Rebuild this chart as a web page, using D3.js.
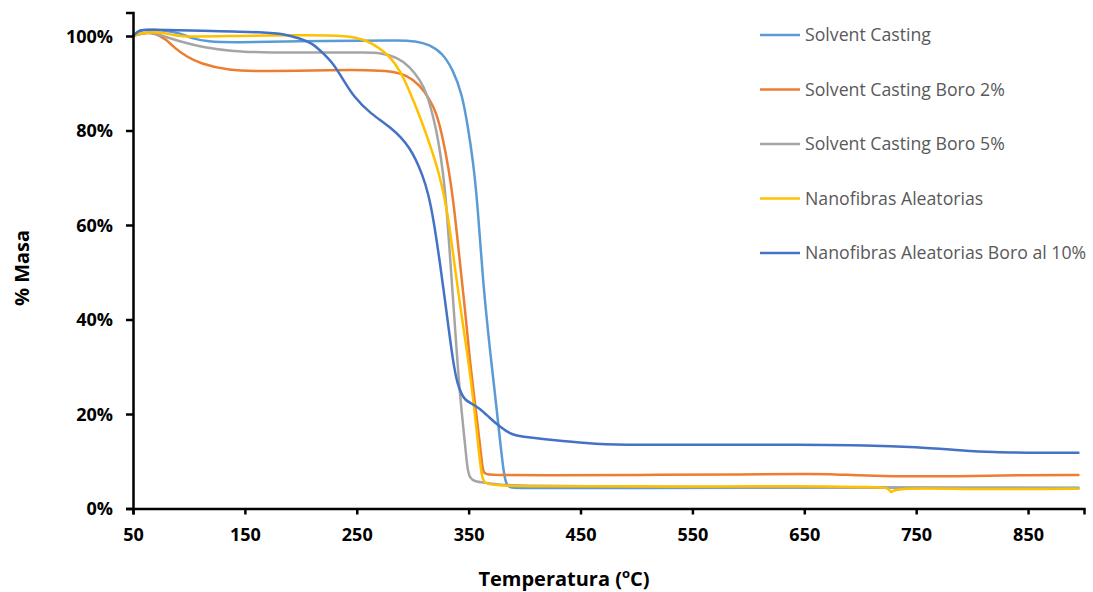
<!DOCTYPE html>
<html>
<head>
<meta charset="utf-8">
<script src="https://cdn.jsdelivr.net/npm/d3@7"></script>
<style>
  html, body { margin: 0; padding: 0; background: #fff; }
  svg { display: block; }
</style>
</head>
<body>
<svg id="chart" width="1093" height="592"></svg>
<script>
// ---------------- DATA ----------------
const seriesNames = [
  "Solvent Casting",
  "Solvent Casting Boro 2%",
  "Solvent Casting Boro 5%",
  "Nanofibras Aleatorias",
  "Nanofibras Aleatorias Boro al 10%"
];

// [temperatura (°C), % masa]
const solventCasting = [
  [50,100],[55,101.2],[62,101.4],[80,101.2],[92,100.6],[104,99.4],[116,98.8],[140,98.6],
  [200,98.9],[250,99.0],[290,99.1],[302,98.9],[315,98.2],[327,96.3],[336,92.8],[344,87.9],
  [349.4,80.7],[353.8,73.8],[358,64.5],[362.5,48.4],[370,31.4],[373.5,24.4],[378,14.5],
  [381,8.1],[383.5,5.2],[386,4.4],[400,4.3],[500,4.3],[600,4.4],[700,4.5],[800,4.4],[895,4.4]
];
const solventCastingBoro2 = [
  [50,100],[58,100.6],[70,100.7],[80,99.2],[86,97.7],[98,95.6],[110,94.2],[134,92.7],
  [170,92.5],[229,92.8],[260,92.8],[280,92.6],[295,91.7],[306.5,89.6],[315.4,86.5],
  [321.4,83.7],[327.3,78],[331.8,72.3],[336.3,65.3],[340.7,55.4],[346,44],[351,31.4],
  [355.6,22.4],[360,13.8],[362.5,8.2],[364,7.1],[380,7.1],[412,7.0],[500,7.1],[600,7.2],
  [650,7.3],[675,7.3],[715,6.8],[790,6.8],[851,7.1],[895,7.1]
];
const solventCastingBoro5 = [
  [50,100],[58,100.6],[68,100.8],[80,99.7],[98,98.5],[110,97.7],[140,96.7],[170,96.5],
  [229,96.5],[259,96.5],[270.8,96.4],[285.7,95.6],[297.6,93.5],[306.5,90.7],[312.5,87.9],
  [318.4,82.9],[322.9,78],[327.3,70.9],[330.4,63.5],[334.8,48.4],[338.5,36],[342,24.4],
  [346.7,13.8],[348.8,8.5],[351,6.3],[356,5.7],[363,5.5],[378,5.0],[400,4.8],[500,4.6],
  [600,4.5],[700,4.5],[800,4.3],[895,4.3]
];
const nanofibrasAleatorias = [
  [50,100],[56,100.6],[65,100.8],[75,100.8],[86,100.2],[98,99.8],[140,100],[200,100.2],
  [244,100.1],[256,99.2],[265,98.3],[274,96.7],[280,95.5],[289,92.5],[295,89.5],[306.5,83],
  [315.4,77],[323,71.5],[330.4,64],[336,54],[342,43.5],[349.7,31.4],[354,23.4],
  [358.6,13.2],[361.6,6.7],[364,5.2],[375,4.9],[400,4.7],[500,4.7],[560,4.6],[650,4.8],
  [711,4.5],[726,4.5],[727.5,3.0],[729,4.4],[791,4.1],[866,4.1],[895,4.2]
];
const nanofibrasAleatoriasBoro10 = [
  [50,100],[55,101.2],[62,101.4],[110,101.1],[170,100.8],[185,100.4],[199,99.5],[211,98.4],
  [220,96.3],[229,94.2],[238,90.7],[247,87.2],[262,83.6],[280,80.8],[298,76.6],[309.5,70.2],
  [314,66.5],[318.4,61.5],[324.4,52],[330.4,41.3],[336,31],[340,26.3],[344,24],[347,23],
  [351,22.4],[360,21.2],[369,19.1],[378,17.3],[387,15.8],[396,15.2],[425,14.5],[455,13.8],
  [485,13.4],[555,13.5],[650,13.5],[706,13.4],[750,13.0],[791,12.3],[820,11.9],[845,11.8],
  [895,11.8]
];

const seriesData = [
  solventCasting, solventCastingBoro2, solventCastingBoro5,
  nanofibrasAleatorias, nanofibrasAleatoriasBoro10
];

const xTickValues = [50,150,250,350,450,550,650,750,850];
const yTickValues = [0,20,40,60,80,100];
const xDomain = [50, 900];
const yDomain = [0, 105];

const xTitle = "Temperatura (";
const yTitle = "% Masa";

// ---------------- STYLE ----------------
const colors = ["#5B9BD5", "#ED7D31", "#A5A5A5", "#FFC000", "#4472C4"];
const fontFamily = "'Open Sans', 'DejaVu Sans', sans-serif";

// ---------------- CHART ----------------
const svg = d3.select("#chart");

const x = d3.scaleLinear().domain(xDomain).range([133, 1084]);
const y = d3.scaleLinear().domain(yDomain).range([508.5, 508.5 - 472.5 * 1.05]);

// lines
const line = d3.line()
  .x(d => x(d[0]))
  .y(d => y(d[1]))
  .curve(d3.curveBasis);

svg.append("g")
  .selectAll("path")
  .data(seriesData)
  .join("path")
  .attr("d", line)
  .attr("fill", "none")
  .attr("stroke", (d, i) => colors[i])
  .attr("stroke-width", 2.5)
  .attr("stroke-linejoin", "round")
  .attr("stroke-linecap", "round");

// axes
const xAxis = d3.axisBottom(x)
  .tickValues(xTickValues)
  .tickSize(6)
  .tickPadding(14)
  .tickFormat(d3.format("d"));

const yAxis = d3.axisLeft(y)
  .tickValues(yTickValues)
  .tickSize(7)
  .tickPadding(13)
  .tickFormat(d => d + "%");

const gx = svg.append("g")
  .attr("transform", `translate(0,${y(0)})`)
  .call(xAxis);

const gy = svg.append("g")
  .attr("transform", `translate(${x(50)},0)`)
  .call(yAxis);

[gx, gy].forEach(g => {
  g.select(".domain").attr("stroke", "#000").attr("stroke-width", 2.5);
  g.selectAll(".tick line").attr("stroke", "#000").attr("stroke-width", 2.5);
  g.selectAll(".tick text")
    .attr("fill", "#000")
    .style("font-family", fontFamily)
    .style("font-weight", "bold")
    .style("font-size", "18px");
});
gy.selectAll(".tick text").attr("dy", "0.36em");

// axis titles
const xt = svg.append("text")
  .attr("x", 564)
  .attr("y", 586)
  .attr("text-anchor", "middle")
  .style("font-family", fontFamily)
  .style("font-weight", "bold")
  .style("font-size", "20px")
  .attr("fill", "#000");
xt.append("tspan").text(xTitle);
xt.append("tspan").attr("dy", "-8").style("font-size", "13px").text("o");
xt.append("tspan").attr("dy", "8").text("C)");

svg.append("text")
  .attr("transform", "translate(29,268) rotate(-90)")
  .attr("text-anchor", "middle")
  .style("font-family", fontFamily)
  .style("font-weight", "bold")
  .style("font-size", "20px")
  .attr("fill", "#000")
  .text(yTitle);

// legend
const legendY = d3.scalePoint().domain(seriesNames).range([35, 253]);
const legend = svg.append("g")
  .selectAll("g")
  .data(seriesNames)
  .join("g")
  .attr("transform", d => `translate(760,${legendY(d)})`);

legend.append("line")
  .attr("x1", 0).attr("x2", 40)
  .attr("y1", 0).attr("y2", 0)
  .attr("stroke", (d, i) => colors[i])
  .attr("stroke-width", 2.5);

legend.append("text")
  .attr("x", 45)
  .attr("y", 0)
  .attr("dy", "0.35em")
  .style("font-family", fontFamily)
  .style("font-size", "17.7px")
  .attr("fill", "#595959")
  .text(d => d);
</script>
</body>
</html>
